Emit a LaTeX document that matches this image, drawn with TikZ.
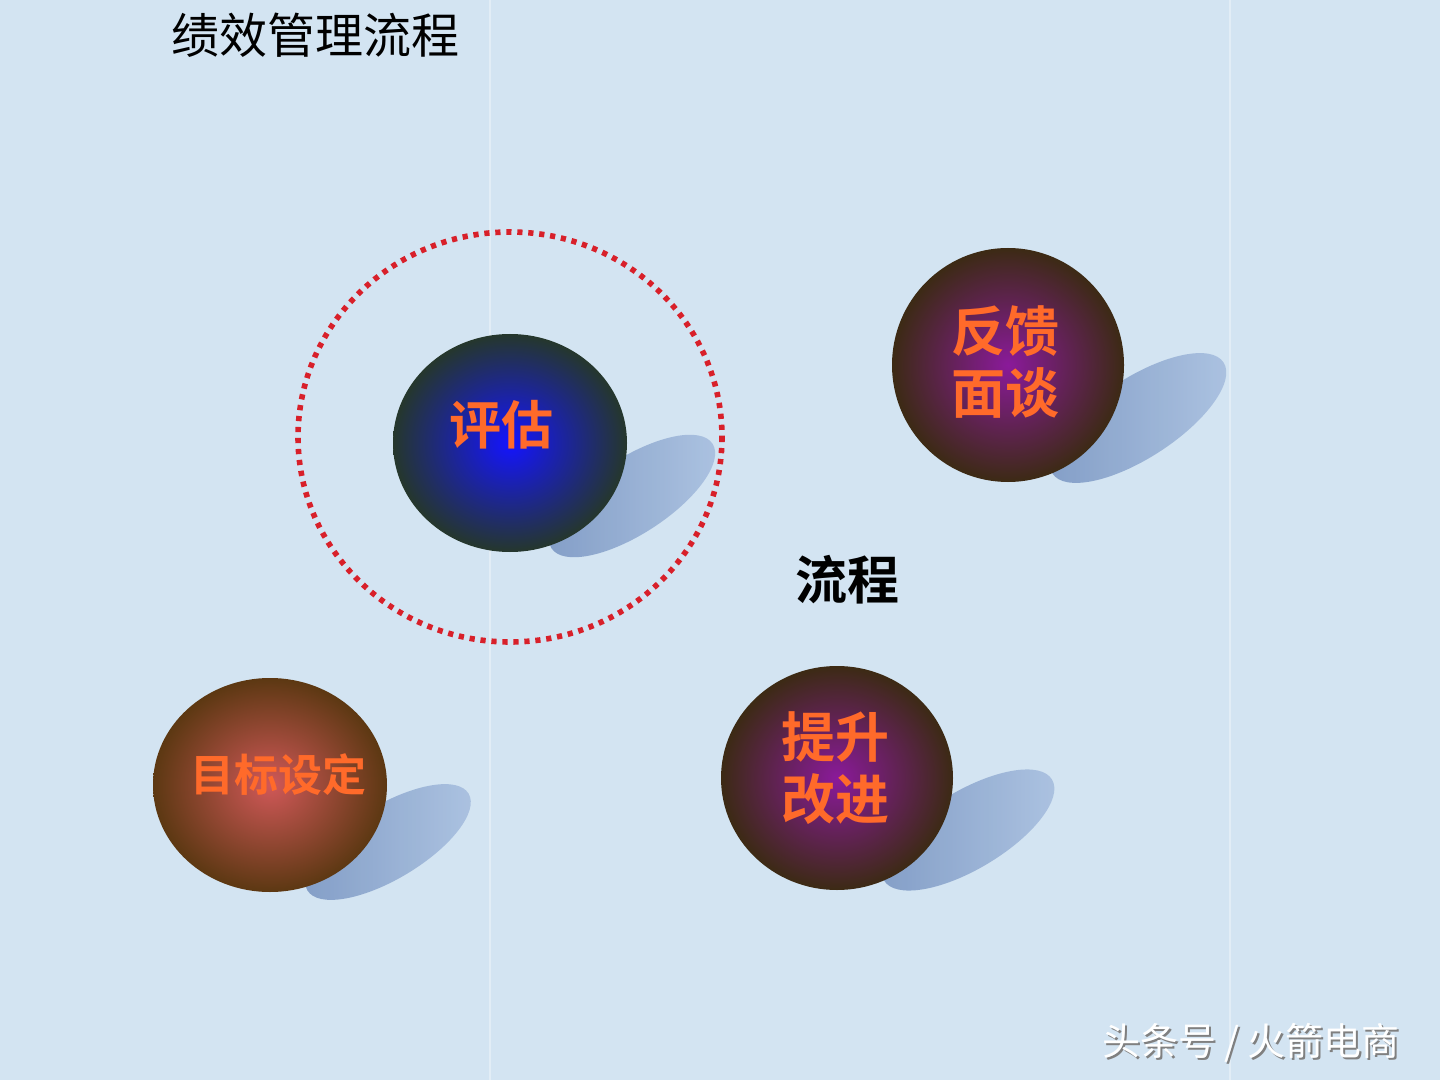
\documentclass[tikz,border=0pt]{standalone}
\usepackage{fontspec}
\newfontfamily\cjk{Noto Sans CJK SC}
\newfontfamily\cjkb{Noto Sans CJK SC Bold}
\begin{document}
\begin{tikzpicture}[x=0.5pt,y=-0.5pt,
  shadowst/.style={left color=shdark, right color=shlight, opacity=0.9},
  balltext/.style={text=orangetxt, font=\cjkb, align=center, inner sep=0pt},
]
\definecolor{bg}{HTML}{D3E4F2}
\definecolor{shdark}{HTML}{7A96C2}
\definecolor{shlight}{HTML}{A9C0E0}
\definecolor{orangetxt}{HTML}{FF6A2A}
\definecolor{dotred}{HTML}{D8202A}
\definecolor{evalin}{HTML}{1414FF}
\definecolor{evalout}{HTML}{25372C}
\definecolor{purpin}{HTML}{8A1A9A}
\definecolor{brownout}{HTML}{3C2A14}
\definecolor{redin}{HTML}{D05858}
\definecolor{redout}{HTML}{5C3812}
\useasboundingbox (0,0) rectangle (1440,1080);
\fill[bg] (0,0) rectangle (1440,1080);
% faint tile seams
\draw[white, opacity=0.35, line width=1pt] (490,0) -- (490,1080);
\draw[white, opacity=0.35, line width=1pt] (1230,0) -- (1230,1080);
% shadows
\shade[shadowst, rotate around={33:(632,496)}] (632,496) ellipse [x radius=96, y radius=38];
\shade[shadowst, rotate around={33:(1138,418)}] (1138,418) ellipse [x radius=102, y radius=40];
\shade[shadowst, rotate around={31:(388,842)}] (388,842) ellipse [x radius=94, y radius=37];
\shade[shadowst, rotate around={31:(968,830)}] (968,830) ellipse [x radius=98, y radius=39];
% balls
\shade[inner color=evalin, outer color=evalout] (510,443) ellipse [x radius=117, y radius=109];
\shade[inner color=purpin, outer color=brownout] (1008,365) ellipse [x radius=116, y radius=117];
\shade[inner color=redin, outer color=redout] (270,785) ellipse [x radius=117, y radius=107];
\shade[inner color=purpin, outer color=brownout] (837,778) ellipse [x radius=116, y radius=112];
% dotted ring
\draw[dotred, line width=2.8pt, dash pattern=on 2.6pt off 2.9pt] (510,437) ellipse [x radius=212, y radius=205];
% texts
\node[font=\cjk\fontsize{24}{28}\selectfont, anchor=center] (title) at (315,35) {绩效管理流程};
\node[font=\cjkb\fontsize{26}{30}\selectfont] (flow) at (847,580) {流程};
\node[balltext, font=\cjkb\fontsize{26}{30}\selectfont] (pg) at (501,425) {评估};
\node[balltext, font=\cjkb\fontsize{27}{31}\selectfont] (fk) at (1005,362) {反馈\\面谈};
\node[balltext, font=\cjkb\fontsize{22}{26}\selectfont] (mb) at (278,775) {目标设定};
\node[balltext, font=\cjkb\fontsize{27}{31}\selectfont] (ts) at (835,768) {提升\\改进};
\node[text=black!50, font=\cjk\fontsize{19}{22}\selectfont] at (1253,1045) {头条号 / 火箭电商};
\node[text=white, font=\cjk\fontsize{19}{22}\selectfont] (wm) at (1251,1043) {头条号 / 火箭电商};
\end{tikzpicture}
\end{document}
